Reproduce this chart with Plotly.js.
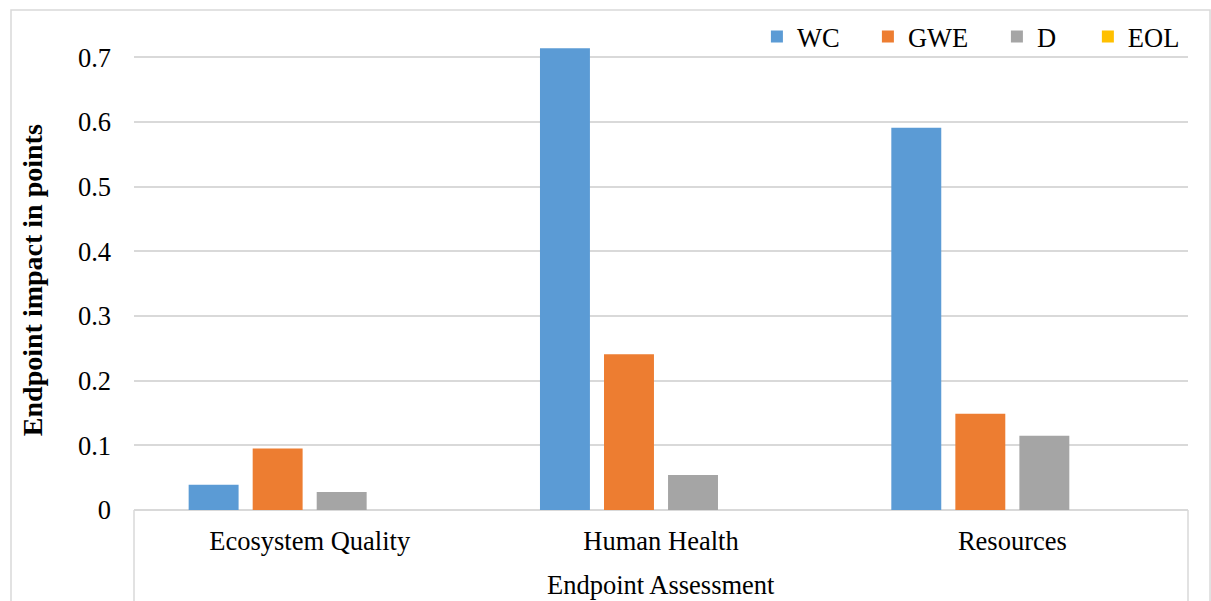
<!DOCTYPE html>
<html>
<head>
<meta charset="utf-8">
<script src="https://cdn.plot.ly/plotly-3.0.1.min.js"></script>
<style>
  html, body { margin: 0; padding: 0; background: #ffffff; }
  #chart { width: 1211px; height: 601px; }
</style>
</head>
<body>
<div id="chart"></div>
<script>
// Endpoint categories and the four life-cycle stages
const categories = ["Ecosystem Quality", "Human Health", "Resources"];
const seriesNames = ["WC", "GWE", "D", "EOL"];
const wcValues  = [0.039, 0.714, 0.591];
const gweValues = [0.095, 0.241, 0.149];
const dValues   = [0.028, 0.054, 0.115];
const eolValues = [0, 0, 0];
const yTickValues = [0, 0.1, 0.2, 0.3, 0.4, 0.5, 0.6, 0.7];
const yTickLabels = ["0", "0.1", "0.2", "0.3", "0.4", "0.5", "0.6", "0.7"];

const seriesColors = ["#5B9BD5", "#ED7D31", "#A5A5A5", "#FFC000"];
const allValues = [wcValues, gweValues, dValues, eolValues];

const fontFamily = "Liberation Serif";
const gridColor = "#d9d9d9";
const textFont = { family: fontFamily, size: 26.5, color: "#000000" };

// one legend per series so each key sits at its own spot along the top
const legendIds = ["legend", "legend2", "legend3", "legend4"];
const legendX = [0.5910, 0.6963, 0.8187, 0.9050];

const traces = seriesNames.map((name, i) => ({
  type: "bar",
  name: name,
  x: categories,
  y: allValues[i],
  legend: legendIds[i],
  marker: { color: seriesColors[i], line: { width: 0 } },
  hoverinfo: "x+y+name"
}));

const layout = {
  width: 1211,
  height: 601,
  margin: { l: 134, r: 23, t: 20, b: 91 },
  paper_bgcolor: "#ffffff",
  plot_bgcolor: "#ffffff",
  font: textFont,
  barmode: "group",
  bargap: 0.271,
  bargroupgap: 0.22,
  showlegend: true,
  xaxis: {
    type: "category",
    showgrid: false,
    showline: false,
    zeroline: false,
    ticks: "",
    ticklabelstandoff: 12,
    tickfont: textFont,
    fixedrange: true
  },
  yaxis: {
    range: [0, 0.7577],
    tickmode: "array",
    tickvals: yTickValues,
    ticktext: yTickLabels,
    showgrid: true,
    gridcolor: gridColor,
    gridwidth: 1.5,
    zeroline: true,
    zerolinecolor: gridColor,
    zerolinewidth: 1.5,
    showline: false,
    ticks: "",
    ticklabelstandoff: 22,
    tickfont: textFont,
    fixedrange: true
  },
  annotations: [
    {
      text: "<b>Endpoint impact in points</b>",
      xref: "paper", yref: "paper",
      x: -0.0968, y: 0.469,
      xanchor: "center", yanchor: "middle",
      textangle: -90,
      showarrow: false,
      font: { family: fontFamily, size: 28, color: "#000000" }
    },
    {
      text: "Endpoint Assessment",
      xref: "paper", yref: "paper",
      x: 0.5, y: -0.154,
      xanchor: "center", yanchor: "middle",
      showarrow: false,
      font: textFont
    }
  ],
  shapes: [
    // outer chart frame
    {
      type: "rect", xref: "paper", yref: "paper",
      x0: -0.1167, x1: 1.0209, y0: -0.3, y1: 1.0204,
      line: { color: gridColor, width: 1.5 }, fillcolor: "rgba(0,0,0,0)", layer: "below"
    },
    // category axis box edges
    {
      type: "line", xref: "paper", yref: "paper",
      x0: 0, x1: 0, y0: 0, y1: -0.3,
      line: { color: gridColor, width: 1.5 }
    },
    {
      type: "line", xref: "paper", yref: "paper",
      x0: 1, x1: 1, y0: 0, y1: -0.3,
      line: { color: gridColor, width: 1.5 }
    }
  ]
};

legendIds.forEach((id, i) => {
  layout[id] = {
    orientation: "h",
    x: legendX[i], xanchor: "left",
    y: 0.966, yanchor: "middle",
    bgcolor: "rgba(0,0,0,0)",
    borderwidth: 0,
    font: textFont,
    itemclick: false,
    itemdoubleclick: false
  };
});

Plotly.newPlot("chart", traces, layout, { displayModeBar: false });
</script>
</body>
</html>
